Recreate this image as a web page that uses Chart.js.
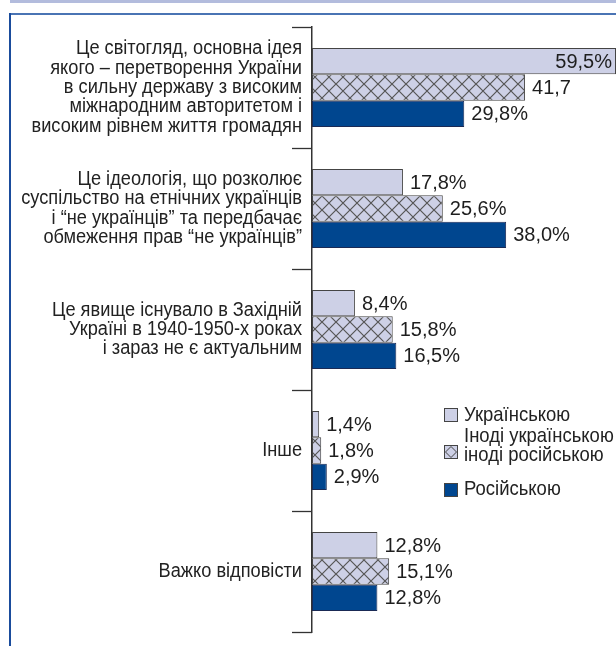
<!DOCTYPE html>
<html>
<head>
<meta charset="utf-8">
<script src="https://cdn.jsdelivr.net/npm/chart.js@4.4.1/dist/chart.umd.min.js"></script>
<style>
  html, body { margin:0; padding:0; background:#fff; }
  #wrap { position:relative; width:616px; height:646px; overflow:hidden; }
  #band { position:absolute; left:10px; top:0; width:606px; height:3px; background:#b3bcdd; }
  #ftop { position:absolute; left:9px; top:13px; width:607px; height:2px; background:#4a74b4; }
  #fleft { position:absolute; left:9px; top:13px; width:2px; height:633px; background:#1a4c9c; }
  #c { position:absolute; left:0; top:0; }
</style>
</head>
<body>
<div id="wrap">
  <div id="band"></div>
  <div id="ftop"></div>
  <div id="fleft"></div>
  <canvas id="c" width="616" height="646"></canvas>
</div>
<script>
const categories = [
  ["Це світогляд, основна ідея", "якого – перетворення України", "в сильну державу з високим", "міжнародним авторитетом і", "високим рівнем життя громадян"],
  ["Це ідеологія, що розколює", "суспільство на етнічних українців", "і “не українців” та передбачає", "обмеження прав “не українців”"],
  ["Це явище існувало в Західній", "Україні в 1940-1950-х роках", "і зараз не є актуальним"],
  ["Інше"],
  ["Важко відповісти"]
];
const seriesNames = ["Українською", "Іноді українською іноді російською", "Російською"];
const ukrainian = [59.5, 17.8, 8.4, 1.4, 12.8];
const mixed = [41.7, 25.6, 15.8, 1.8, 15.1];
const russian = [29.8, 38.0, 16.5, 2.9, 12.8];
const ukrainianLabels = ["59,5%", "17,8%", "8,4%", "1,4%", "12,8%"];
const mixedLabels = ["41,7", "25,6%", "15,8%", "1,8%", "15,1%"];
const russianLabels = ["29,8%", "38,0%", "16,5%", "2,9%", "12,8%"];
const legendLines = [["Українською"], ["Іноді українською", "іноді російською"], ["Російською"]];

const LIGHT = '#cdd0e6';
const DARK = '#00468f';
const SANS = '"Liberation Sans", Arial, sans-serif';

function makeHatch() {
  const s = 14;
  const pc = document.createElement('canvas');
  pc.width = s; pc.height = s;
  const g = pc.getContext('2d');
  g.fillStyle = LIGHT; g.fillRect(0, 0, s, s);
  g.strokeStyle = '#555'; g.lineWidth = 1.2;
  g.beginPath();
  g.moveTo(0, 0); g.lineTo(s, s);
  g.moveTo(s, 0); g.lineTo(0, s);
  g.stroke();
  const ctx = document.getElementById('c').getContext('2d');
  return ctx.createPattern(pc, 'repeat');
}
const hatch = makeHatch();

function narrowText(ctx, txt, x, y, align, squeeze) {
  ctx.save();
  ctx.translate(x, y);
  ctx.scale(squeeze, 1);
  ctx.textAlign = align;
  ctx.fillText(txt, 0, 0);
  ctx.restore();
}

const extras = {
  id: 'extras',
  afterDatasetsDraw(chart) {
    const ctx = chart.ctx;
    const ys = chart.scales.y;
    const area = chart.chartArea;
    const n = categories.length;
    const step = (ys.getPixelForValue(1) - ys.getPixelForValue(0));
    ctx.save();
    // tick marks at category boundaries
    ctx.strokeStyle = '#333'; ctx.lineWidth = 1.3;
    for (let i = 0; i <= n; i++) {
      const y = Math.round(ys.getPixelForValue(0) - step / 2 + i * step) + 0.5;
      ctx.beginPath(); ctx.moveTo(area.left - 20, y); ctx.lineTo(area.left, y); ctx.stroke();
    }
    // category labels (condensed)
    ctx.font = '20px ' + SANS;
    ctx.fillStyle = '#222';
    ctx.textBaseline = 'middle';
    const lh = 19.3;
    categories.forEach((lines, i) => {
      const cy = ys.getPixelForValue(i);
      lines.forEach((t, j) => {
        const y = cy + (j - (lines.length - 1) / 2) * lh;
        narrowText(ctx, t, area.left - 10, y, 'right', 0.91);
      });
    });
    // value labels
    const labelSets = [ukrainianLabels, mixedLabels, russianLabels];
    ctx.font = '20px ' + SANS;
    ctx.fillStyle = '#1e1e1e';
    ctx.textBaseline = 'middle';
    chart.data.datasets.forEach((ds, di) => {
      const meta = chart.getDatasetMeta(di);
      meta.data.forEach((bar, i) => {
        const txt = labelSets[di][i];
        const w = ctx.measureText(txt).width;
        let x = bar.x + 7;
        ctx.textAlign = 'left';
        if (x + w > area.right) { x = area.right - 4; ctx.textAlign = 'right'; }
        ctx.fillText(txt, x, bar.y + 1);
      });
    });
    // legend
    const lx = 444, sw = 14;
    const items = [
      { y: 408, fill: LIGHT, diamond: false, textY: [415] },
      { y: 445, fill: LIGHT, diamond: true, textY: [436, 455] },
      { y: 483, fill: DARK, diamond: false, textY: [489] }
    ];
    ctx.font = '21px ' + SANS;
    ctx.textBaseline = 'middle';
    items.forEach((it, k) => {
      ctx.fillStyle = it.fill;
      ctx.fillRect(lx, it.y, sw, sw);
      ctx.strokeStyle = '#444'; ctx.lineWidth = 1;
      ctx.strokeRect(lx + 0.5, it.y + 0.5, sw - 1, sw - 1);
      if (it.diamond) {
        ctx.beginPath();
        ctx.moveTo(lx + sw / 2, it.y + 1.5);
        ctx.lineTo(lx + sw - 1.5, it.y + sw / 2);
        ctx.lineTo(lx + sw / 2, it.y + sw - 1.5);
        ctx.lineTo(lx + 1.5, it.y + sw / 2);
        ctx.closePath();
        ctx.stroke();
      }
      ctx.fillStyle = '#222';
      legendLines[k].forEach((t, j) => narrowText(ctx, t, lx + sw + 6, it.textY[j], 'left', 0.88));
    });
    ctx.restore();
  }
};

new Chart(document.getElementById('c'), {
  type: 'bar',
  data: {
    labels: categories,
    datasets: [
      { label: seriesNames[0], data: ukrainian, backgroundColor: LIGHT, borderColor: '#444', borderWidth: 1, borderSkipped: false },
      { label: seriesNames[1], data: mixed, backgroundColor: hatch, borderColor: '#444', borderWidth: 1, borderSkipped: false },
      { label: seriesNames[2], data: russian, backgroundColor: DARK, borderColor: '#1a2a55', borderWidth: 1, borderSkipped: false }
    ]
  },
  options: {
    indexAxis: 'y',
    responsive: false,
    animation: false,
    events: [],
    layout: { padding: { top: 27, bottom: 14, right: 0, left: 0 } },
    datasets: { bar: { categoryPercentage: 0.653, barPercentage: 1 } },
    plugins: { legend: { display: false }, tooltip: { enabled: false } },
    scales: {
      x: { display: false, min: 0, max: 59.5 },
      y: {
        grid: { display: false },
        border: { display: true, color: '#333', width: 1.5 },
        ticks: { display: false },
        afterFit(scale) { scale.width = 312; scale.paddingTop = 0; scale.paddingBottom = 0; }
      }
    }
  },
  plugins: [extras]
});
</script>
</body>
</html>
